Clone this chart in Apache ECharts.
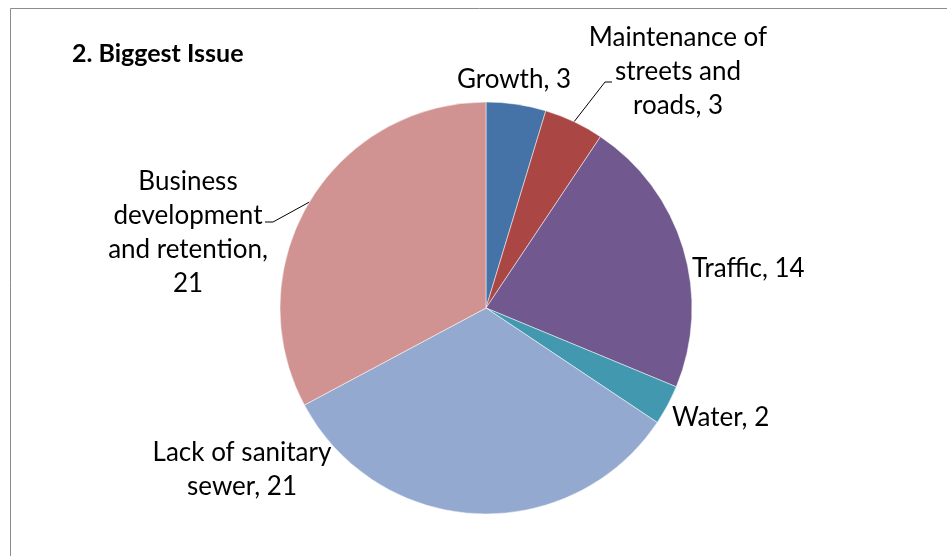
<!DOCTYPE html>
<html>
<head>
<meta charset="utf-8">
<script src="https://cdn.jsdelivr.net/npm/echarts@6/dist/echarts.min.js"></script>
<style>
  html, body { margin: 0; padding: 0; background: #fff; }
  #chart { width: 947px; height: 556px; }
</style>
</head>
<body>
<div id="chart"></div>
<script>
const categories = [
  'Growth',
  'Maintenance of\nstreets and\nroads',
  'Traffic',
  'Water',
  'Lack of sanitary\nsewer',
  'Business\ndevelopment\nand retention,\n'
]
const values = [3, 3, 14, 2, 21, 21]
const colors = ['#4572A7', '#AA4643', '#71588F', '#4198AF', '#93A9CF', '#D19392']

const CX = 486, CY = 308, R = 206

// where each label sits (centre of text block) and how it is aligned;
// elbow = where the leader line meets the text, tail = short horizontal bit
const labelSpots = [
  { x: 514, y: 80, align: 'center' },
  { x: 678, y: 72, align: 'center', elbow: [605, 82], tail: 7 },
  { x: 692, y: 269, align: 'left' },
  { x: 672, y: 418, align: 'left' },
  { x: 242, y: 470, align: 'center' },
  { x: 188, y: 233, align: 'center', elbow: [273, 222], tail: -8 }
]

const total = values.reduce((a, b) => a + b, 0)
// point on the rim at the middle of slice i
const rimPoint = (i) => {
  const before = values.slice(0, i).reduce((a, b) => a + b, 0)
  const ang = (before + values[i] / 2) / total * Math.PI * 2
  return [CX + R * Math.sin(ang), CY - R * Math.cos(ang)]
}

const chart = echarts.init(document.getElementById('chart'))

const option = {
  animation: false,
  graphic: [
    {
      type: 'rect',
      shape: { x: 10.5, y: 8.5, width: 1000, height: 600 },
      style: { fill: 'none', stroke: '#8c8c8c', lineWidth: 1 }
    }
  ],
  title: {
    text: '2. Biggest Issue',
    left: 67,
    top: 36,
    textStyle: { fontFamily: 'Lato', fontWeight: 'bold', fontSize: 25, color: '#000' }
  },
  series: [
    {
      type: 'pie',
      center: [CX, CY],
      radius: R,
      startAngle: 90,
      clockwise: true,
      itemStyle: { borderColor: '#fff', borderWidth: 0.5 },
      label: {
        fontFamily: 'Lato',
        fontSize: 26,
        lineHeight: 34,
        color: '#000',
        formatter: (p) => p.name.endsWith('\n') ? p.name + p.value : p.name + ', ' + p.value
      },
      labelLine: { lineStyle: { color: '#000', width: 1 } },
      labelLayout: (p) => {
        const s = labelSpots[p.dataIndex]
        const out = { x: s.x, y: s.y, align: s.align, verticalAlign: 'middle', moveOverlap: false }
        if (s.elbow) {
          out.labelLinePoints = [
            rimPoint(p.dataIndex),
            s.elbow,
            [s.elbow[0] + s.tail, s.elbow[1]]
          ]
        }
        return out
      },
      data: categories.map((name, i) => ({
        name,
        value: values[i],
        itemStyle: { color: colors[i] },
        label: { align: labelSpots[i].align },
        labelLine: { show: !!labelSpots[i].elbow }
      }))
    }
  ]
}

chart.setOption(option)
</script>
</body>
</html>
